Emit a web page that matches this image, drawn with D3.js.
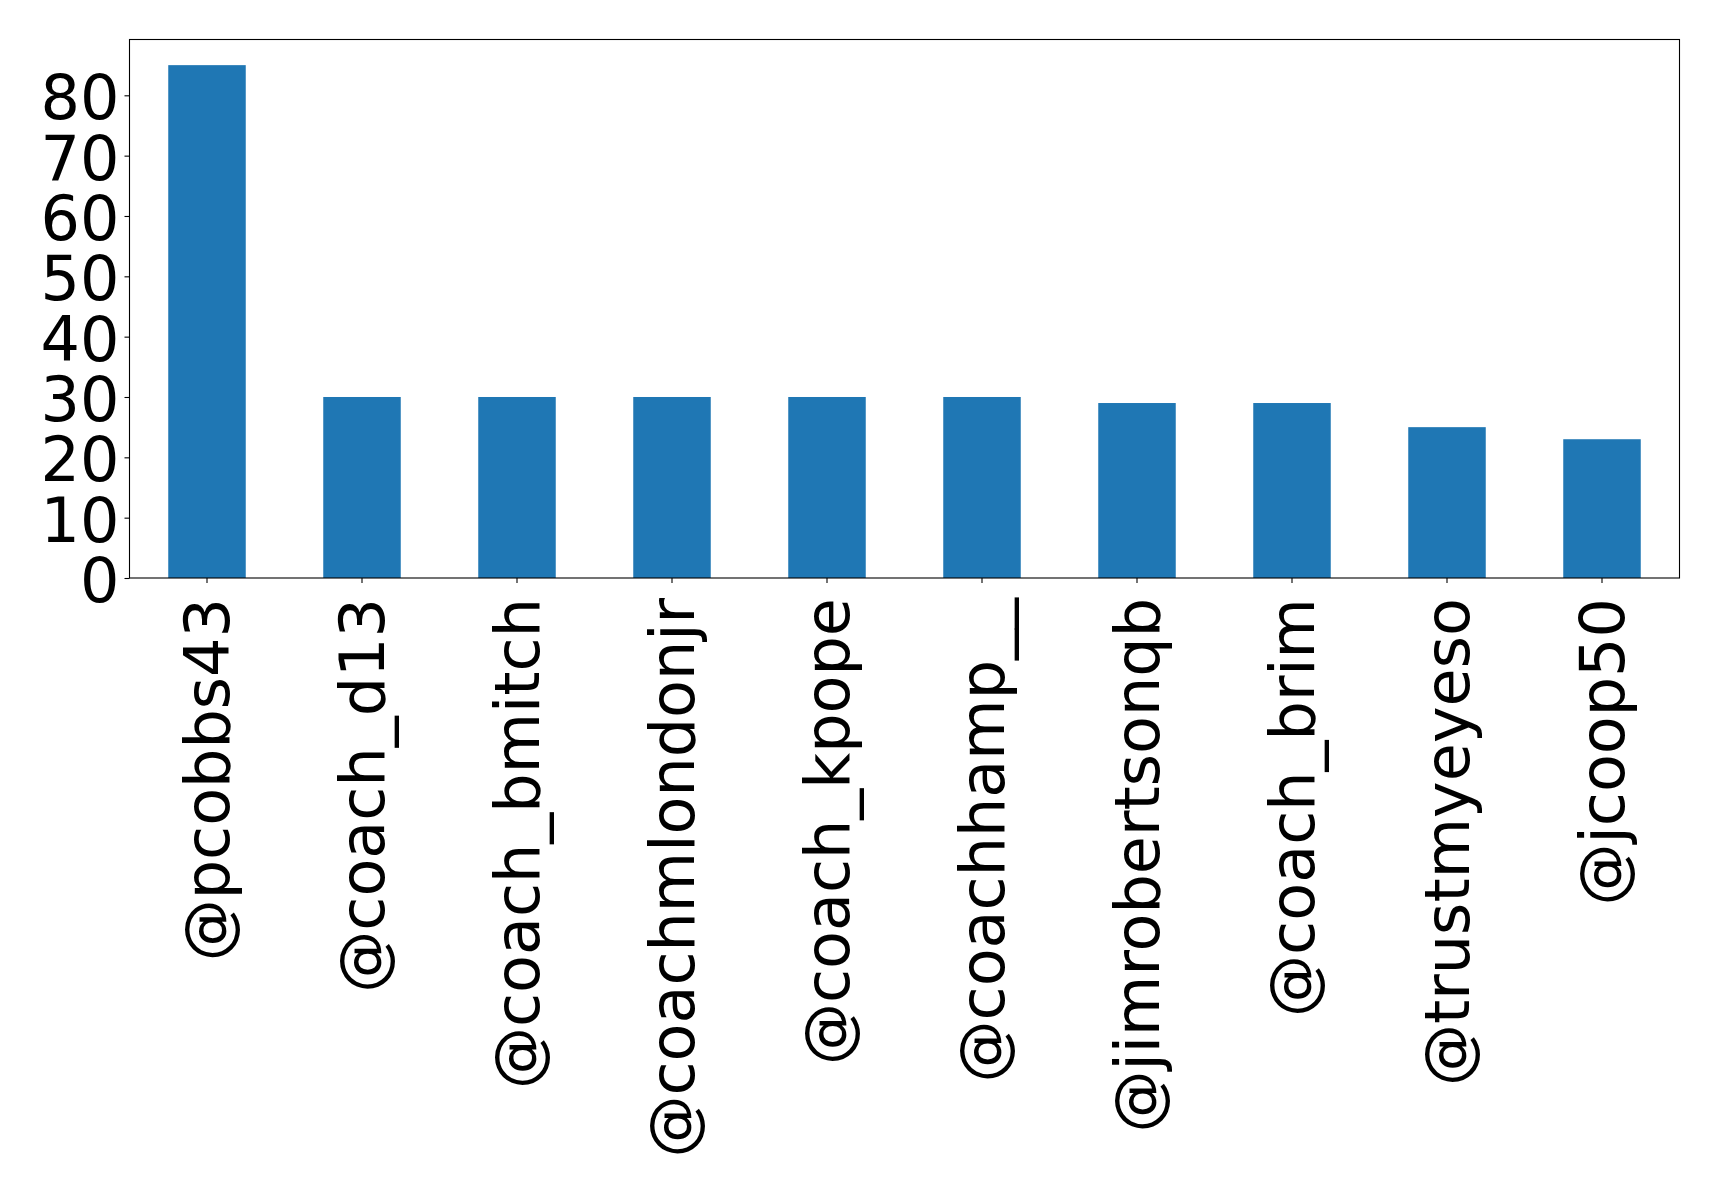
<!DOCTYPE html>
<html>
<head>
<meta charset="utf-8">
<script src="https://cdn.jsdelivr.net/npm/d3@7"></script>
<style>
  html, body { margin: 0; padding: 0; background: #fff; }
  svg { display: block; }
</style>
</head>
<body>
<svg id="chart" width="1719" height="1192"></svg>
<script>
const categories = ["@pcobbs43", "@coach_d13", "@coach_bmitch", "@coachmlondonjr", "@coach_kpope",
                    "@coachhamp__", "@jimrobertsonqb", "@coach_brim", "@trustmyeyeso", "@jcoop50"];
const values = [85, 30, 30, 30, 30, 30, 29, 29, 25, 23];
const yTicks = [0, 10, 20, 30, 40, 50, 60, 70, 80];

const W = 1719, H = 1192;
const plot = { left: 129.5, top: 39.5, right: 1679.5, bottom: 578 };
const fontFamily = "'DejaVu Sans', sans-serif";
const fontSize = 62;

const svg = d3.select("#chart");

const x = d3.scaleBand()
  .domain(categories)
  .range([plot.left, plot.right])
  .paddingInner(0.5)
  .paddingOuter(0.25);

const yMax = d3.max(values) * 1.05;
const y = d3.scaleLinear()
  .domain([0, yMax])
  .range([plot.bottom, plot.top]);

// bars
svg.append("g")
  .selectAll("rect")
  .data(values)
  .join("rect")
  .attr("x", (d, i) => x(categories[i]))
  .attr("width", x.bandwidth())
  .attr("y", d => y(d))
  .attr("height", d => y(0) - y(d))
  .attr("fill", "#1f77b4");

// y axis
const yAxis = svg.append("g")
  .attr("transform", `translate(${plot.left},0)`)
  .call(d3.axisLeft(y).tickValues(yTicks).tickSize(5).tickPadding(5).tickFormat(d3.format("d")));
yAxis.select(".domain").remove();
yAxis.selectAll(".tick line").attr("stroke", "#000").attr("stroke-width", 1.1);
yAxis.selectAll(".tick text")
  .attr("font-family", fontFamily)
  .attr("font-size", fontSize)
  .attr("fill", "#000")
  .attr("dy", "0.38em");

// x axis
const xAxis = svg.append("g")
  .attr("transform", `translate(0,${plot.bottom})`)
  .call(d3.axisBottom(x).tickSize(5).tickPadding(0));
xAxis.select(".domain").remove();
xAxis.selectAll(".tick line").attr("stroke", "#000").attr("stroke-width", 1.1);
xAxis.selectAll(".tick text")
  .attr("font-family", fontFamily)
  .attr("font-size", fontSize)
  .attr("fill", "#000")
  .attr("text-anchor", "end")
  .attr("dominant-baseline", "central")
  .attr("dy", null)
  .attr("y", null)
  .attr("transform", "translate(0,20) rotate(-90)");

// frame (spines)
svg.append("rect")
  .attr("x", plot.left)
  .attr("y", plot.top)
  .attr("width", plot.right - plot.left)
  .attr("height", plot.bottom - plot.top)
  .attr("fill", "none")
  .attr("stroke", "#000")
  .attr("stroke-width", 1.1);
</script>
</body>
</html>
